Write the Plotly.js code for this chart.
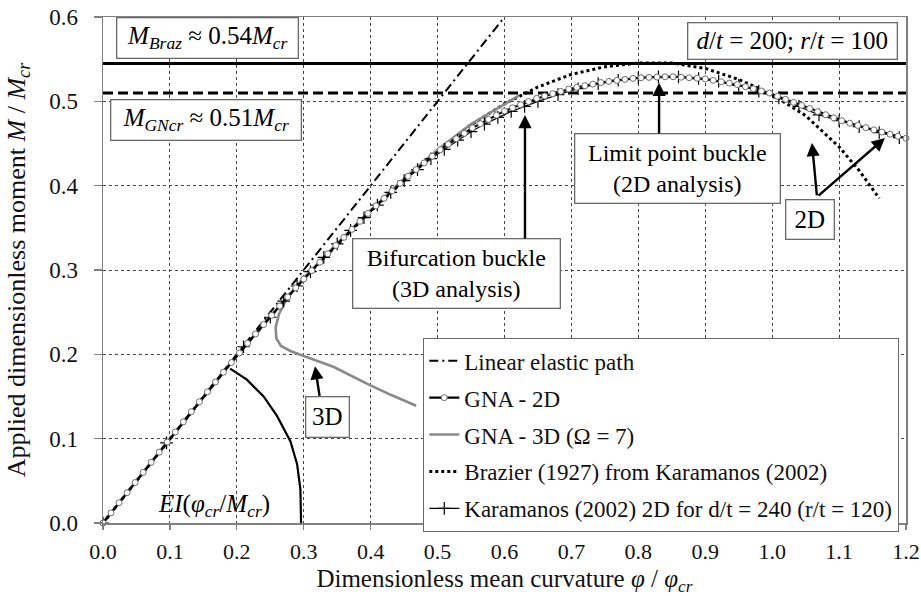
<!DOCTYPE html>
<html>
<head>
<meta charset="utf-8">
<script src="https://cdn.plot.ly/plotly-3.0.1.min.js"></script>
<style>html,body{margin:0;padding:0;background:#fff;}#chart{width:921px;height:596px;}</style>
</head>
<body>
<div id="chart"></div>
<script>
// ---- Data ----
const linearX = [0.0, 0.6];
const linearY = [0.0, 0.6];

const gna2dX = [0.000,0.012,0.024,0.036,0.048,0.060,0.072,0.084,0.096,0.108,0.120,0.132,0.144,0.156,0.168,0.180,0.192,0.204,0.216,0.228,0.240,0.252,0.264,0.276,0.288,0.300,0.312,0.324,0.336,0.348,0.360,0.372,0.384,0.396,0.408,0.420,0.432,0.444,0.456,0.468,0.480,0.492,0.504,0.516,0.528,0.540,0.552,0.564,0.576,0.588,0.600,0.612,0.624,0.636,0.648,0.660,0.672,0.684,0.696,0.708,0.720,0.732,0.744,0.756,0.768,0.780,0.792,0.804,0.816,0.828,0.840,0.852,0.864,0.876,0.888,0.900,0.912,0.924,0.936,0.948,0.960,0.972,0.984,0.996,1.008,1.020,1.032,1.044,1.056,1.068,1.080,1.092,1.104,1.116,1.128,1.140,1.152,1.164,1.176,1.188,1.200];
const gna2dY = [0.0000,0.0120,0.0240,0.0360,0.0480,0.0600,0.0720,0.0840,0.0960,0.1080,0.1200,0.1320,0.1438,0.1555,0.1672,0.1788,0.1903,0.2017,0.2130,0.2242,0.2353,0.2463,0.2572,0.2680,0.2787,0.2893,0.2993,0.3093,0.3192,0.3291,0.3387,0.3482,0.3577,0.3671,0.3761,0.3850,0.3939,0.4028,0.4112,0.4191,0.4270,0.4349,0.4426,0.4491,0.4556,0.4621,0.4685,0.4735,0.4786,0.4836,0.4886,0.4923,0.4960,0.4998,0.5035,0.5063,0.5091,0.5118,0.5146,0.5166,0.5185,0.5204,0.5223,0.5236,0.5248,0.5260,0.5272,0.5280,0.5284,0.5288,0.5291,0.5292,0.5286,0.5280,0.5274,0.5266,0.5249,0.5232,0.5216,0.5199,0.5173,0.5148,0.5123,0.5098,0.5060,0.5024,0.4988,0.4952,0.4915,0.4878,0.4841,0.4804,0.4770,0.4741,0.4714,0.4688,0.4662,0.4636,0.4610,0.4586,0.4562];

const gna3dX = [0.000,0.100,0.200,0.250,0.300,0.350,0.400,0.450,0.500,0.550,0.600,0.622,0.600,0.550,0.500,0.450,0.400,0.350,0.300,0.285,0.272,0.263,0.258,0.259,0.266,0.280,0.300,0.345,0.395,0.430,0.468];
const gna3dY = [0.000,0.100,0.1985,0.2450,0.2905,0.3315,0.3710,0.4085,0.4425,0.4730,0.4965,0.5070,0.4965,0.4730,0.4425,0.4085,0.3710,0.3315,0.2905,0.2770,0.2620,0.2480,0.2320,0.2190,0.2100,0.2040,0.1980,0.1850,0.1650,0.1520,0.1390];

const brazierX = [0.00,0.10,0.20,0.30,0.40,0.50,0.55,0.60,0.65,0.70,0.75,0.80,0.85,0.90,0.95,1.00,1.05,1.10,1.13,1.16];
const brazierY = [0.000,0.100,0.199,0.290,0.370,0.442,0.472,0.497,0.517,0.532,0.541,0.5455,0.5455,0.539,0.526,0.508,0.483,0.446,0.418,0.385];

const karX = [0.000,0.095,0.210,0.250,0.270,0.290,0.310,0.330,0.350,0.370,0.390,0.410,0.430,0.450,0.470,0.490,0.510,0.530,0.550,0.570,0.590,0.610,0.630,0.650,0.680,0.710,0.740,0.770,0.800,0.830,0.860,0.890,0.920,0.950,0.980,1.010,1.040,1.070,1.100,1.130,1.160,1.190];
const karY = [0.000,0.095,0.209,0.244,0.263,0.281,0.298,0.315,0.331,0.347,0.362,0.377,0.392,0.406,0.419,0.432,0.443,0.454,0.464,0.473,0.481,0.488,0.494,0.500,0.508,0.515,0.521,0.525,0.528,0.529,0.529,0.527,0.524,0.519,0.512,0.504,0.494,0.484,0.477,0.470,0.463,0.457];

const eiX = [0.190,0.215,0.240,0.260,0.280,0.290,0.295,0.296];
const eiY = [0.183,0.170,0.150,0.127,0.097,0.070,0.040,0.000];

const mBraz = 0.545;
const mGNcr = 0.51;

const xTicks = [0.0,0.1,0.2,0.3,0.4,0.5,0.6,0.7,0.8,0.9,1.0,1.1,1.2];
const yTicks = [0.0,0.1,0.2,0.3,0.4,0.5,0.6];

// ---- Chart ----
const serif = '"Liberation Serif", "Times New Roman", serif';
const traces = [
  {x: eiX, y: eiY, mode: 'lines', line: {color: '#000', width: 2.2}, showlegend: false, hoverinfo: 'skip'},
  {x: brazierX, y: brazierY, mode: 'lines', name: 'Brazier (1927) from Karamanos (2002)',
   line: {color: '#000', width: 3, dash: 'dot'}, legendgroup: 'g4', legendrank: 4},
  {x: gna3dX, y: gna3dY, mode: 'lines', name: 'GNA - 3D (Ω = 7)',
   line: {color: '#8a8a8a', width: 2.6}, legendgroup: 'g3', legendrank: 3},
  {x: linearX, y: linearY, mode: 'lines', name: 'Linear elastic path',
   line: {color: '#000', width: 2, dash: '9px,4px,2px,4px'}, legendgroup: 'g1', legendrank: 1},
  {x: karX, y: karY, mode: 'lines+markers', name: 'Karamanos (2002) 2D for d/t = 240 (r/t = 120)',
   line: {color: '#000', width: 1.2}, marker: {symbol: 'cross-thin-open', size: 9, color: '#000', line: {color: '#000', width: 1.2}},
   legendgroup: 'g5', legendrank: 5, cliponaxis: false},
  {x: gna2dX, y: gna2dY, mode: 'lines+markers', name: 'GNA - 2D',
   line: {color: '#000', width: 2.2}, marker: {symbol: 'circle', size: 6, color: '#fff', line: {color: '#6e6e6e', width: 1}},
   legendgroup: 'g2', legendrank: 2, cliponaxis: false}
];

const axisCommon = {
  showgrid: true, gridcolor: '#444', gridwidth: 1, griddash: '3px,3px',
  showline: true, linecolor: '#808080', linewidth: 1.5, mirror: true,
  ticks: 'outside', tickcolor: '#808080', tickwidth: 1.2,
  zeroline: false, tickformat: '.1f'
};

function box(x, y, text, w, h, fs) {
  return {x: x, y: y, xref: 'x', yref: 'y', text: text, showarrow: false,
    font: {family: serif, size: fs, color: '#000'}, bgcolor: '#fff',
    bordercolor: '#6a6a6a', borderwidth: 1.3, borderpad: 3,
    width: w, height: h, xanchor: 'center', yanchor: 'middle', align: 'center'};
}
function arrow(x0, y0, x1, y1) {
  return {x: x1, y: y1, ax: x0, ay: y0, xref: 'x', yref: 'y', axref: 'x', ayref: 'y',
    text: '', showarrow: true, arrowhead: 2, arrowsize: 1.1, arrowwidth: 2.4, arrowcolor: '#000'};
}

const annotations = [
  box(0.156, 0.575, '<i>M</i><sub><i>Braz</i></sub> ≈ 0.54<i>M</i><sub><i>cr</i></sub>', 174, 33, 25),
  box(0.154, 0.478, '<i>M</i><sub><i>GNcr</i></sub> ≈ 0.51<i>M</i><sub><i>cr</i></sub>', 183, 33, 25),
  box(1.03, 0.5716, '<i>d</i>/<i>t</i> = 200; <i>r</i>/<i>t</i> = 100', 202, 29, 25),
  box(0.858, 0.42, 'Limit point buckle<br>(2D analysis)', 198, 62, 24),
  box(0.528, 0.296, 'Bifurcation buckle<br>(3D analysis)', 200, 62, 24),
  box(1.0565, 0.36, '2D', 41, 32, 25),
  box(0.336, 0.1257, '3D', 36, 33, 25),
  {x: 0.166, y: 0.0213, xref: 'x', yref: 'y', showarrow: false,
   text: '<i>EI</i>(<i>φ</i><sub><i>cr</i></sub>/<i>M</i><sub><i>cr</i></sub>)',
   font: {family: serif, size: 25, color: '#000'}},
  arrow(0.831, 0.46, 0.831, 0.522),
  arrow(1.067, 0.3866, 1.0595, 0.4506),
  arrow(1.067, 0.3866, 1.1686, 0.4565),
  arrow(0.6306, 0.3356, 0.6306, 0.4838),
  arrow(0.324, 0.149, 0.3168, 0.186)
];

const layout = {
  width: 921, height: 596,
  margin: {l: 103, r: 15, t: 17, b: 73},
  paper_bgcolor: '#fff', plot_bgcolor: '#fff',
  font: {family: serif, color: '#000'},
  xaxis: Object.assign({}, axisCommon, {range: [0, 1.2], tickvals: xTicks, ticklen: 5, ticklabelstandoff: 3,
    tickfont: {family: serif, size: 22, color: '#111'},
    title: {text: 'Dimensionless mean curvature <i>φ</i> / <i>φ</i><sub><i>cr</i></sub>', font: {family: serif, size: 25, color: '#111'}, standoff: 9}}),
  yaxis: Object.assign({}, axisCommon, {range: [0, 0.6], tickvals: yTicks, ticklen: 8, ticklabelstandoff: 11,
    tickfont: {family: serif, size: 23, color: '#111'},
    title: {text: 'Applied dimensionless moment <i>M</i> / <i>M</i><sub><i>cr</i></sub>', font: {family: serif, size: 26, color: '#111'}, standoff: 16}}),
  showlegend: true,
  legend: {x: 0.3985, y: 0.3656, xanchor: 'left', yanchor: 'top',
    bgcolor: '#fff', bordercolor: '#6a6a6a', borderwidth: 1.3,
    font: {family: serif, size: 23, color: '#111'},
    traceorder: 'grouped', tracegroupgap: 4},
  shapes: [
    {type: 'line', xref: 'x', yref: 'y', x0: 0, x1: 1.2, y0: mBraz, y1: mBraz, line: {color: '#000', width: 3}, layer: 'between'},
    {type: 'line', xref: 'x', yref: 'y', x0: 0, x1: 1.2, y0: mGNcr, y1: mGNcr, line: {color: '#000', width: 3, dash: '10px,5px'}, layer: 'between'}
  ],
  annotations: annotations
};

Plotly.newPlot('chart', traces, layout, {displayModeBar: false, staticPlot: true});
</script>
</body>
</html>
